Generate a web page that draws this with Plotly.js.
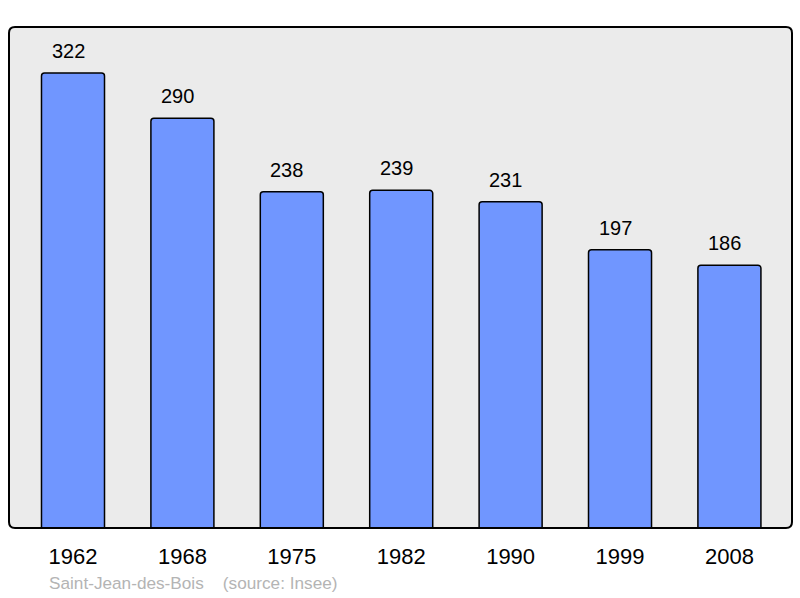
<!DOCTYPE html>
<html><head><meta charset="utf-8">
<script src="https://cdn.plot.ly/plotly-3.0.1.min.js"></script>
<style>html,body{margin:0;padding:0;background:#fff}#c{width:800px;height:598px}</style>
</head><body><div id="c"></div>
<script>
const years = ["1962","1968","1975","1982","1990","1999","2008"];
const population = [322, 290, 238, 239, 231, 197, 186];
const footer = "Saint-Jean-des-Bois    (source: Insee)";

const rx = 6/783, ry = 6/501;
const frame = `M ${rx},0 L ${1-rx},0 Q 1,0 1,${ry} L 1,${1-ry} Q 1,1 ${1-rx},1 L ${rx},1 Q 0,1 0,${1-ry} L 0,${ry} Q 0,0 ${rx},0 Z`;

const trace = {
  type: 'bar', x: years, y: population, width: 0.576,
  marker: {color: '#7096ff', line: {color: '#000', width: 1.5}, cornerradius: 3},
  hoverinfo: 'none'
};
const annotations = years.map((yr, i) => ({
  x: i, y: population[i], xref: 'x', yref: 'y', text: String(population[i]),
  showarrow: false, yanchor: 'bottom', yshift: 9, xshift: -5,
  font: {family: 'Liberation Sans, Arial, sans-serif', size: 20, color: '#000'}
}));
annotations.push({
  xref: 'paper', yref: 'paper', x: 38/783, y: -55/501, xanchor: 'left', yanchor: 'middle',
  text: footer.replace(/ /g, '&nbsp;').replace('&nbsp;(', ' ('), showarrow: false,
  font: {family: 'Liberation Sans, Arial, sans-serif', size: 17.2, color: '#b4b4b4'}
});

const layout = {
  width: 800, height: 598,
  margin: {l: 9, r: 8, t: 27, b: 70},
  paper_bgcolor: '#fff', plot_bgcolor: 'rgba(0,0,0,0)',
  showlegend: false,
  xaxis: {type: 'category', range: [-0.585, 6.572], showgrid: false, zeroline: false, showline: false,
    ticks: 'outside', ticklen: 9, tickcolor: 'rgba(0,0,0,0)',
    tickfont: {family: 'Liberation Sans, Arial, sans-serif', size: 22, color: '#000'}, fixedrange: true},
  yaxis: {range: [0, 354.6], showgrid: false, zeroline: false, showline: false,
    showticklabels: false, fixedrange: true},
  shapes: [
    {type: 'path', xref: 'paper', yref: 'paper', path: frame, fillcolor: '#ebebeb',
     line: {width: 0}, layer: 'below'},
    {type: 'path', xref: 'paper', yref: 'paper', path: frame, fillcolor: 'rgba(0,0,0,0)',
     line: {color: '#000', width: 2}, layer: 'above'}
  ],
  annotations: annotations
};
Plotly.newPlot('c', [trace], layout, {staticPlot: true, displayModeBar: false});
</script></body></html>
